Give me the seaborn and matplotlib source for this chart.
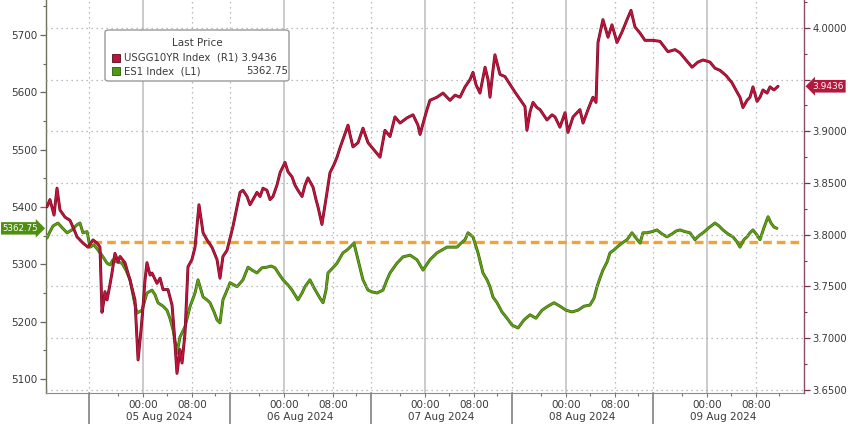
import matplotlib
matplotlib.use("Agg")
import matplotlib.pyplot as plt
import matplotlib.patheffects as pe
import matplotlib.transforms as mtransforms
from matplotlib.patches import FancyBboxPatch, Rectangle
from matplotlib.ticker import MultipleLocator, FuncFormatter, FixedLocator
import seaborn as sns

# ---------------- data (x = session position in days, 0 = start of 05 Aug session) ----------
us10_x = [-0.298, -0.277, -0.248, -0.227, -0.206, -0.170, -0.135, -0.106, -0.085, -0.043,
          -0.007, 0.028, 0.057, 0.078, 0.092, 0.106, 0.113, 0.128, 0.149, 0.163,
          0.184, 0.206, 0.220, 0.255, 0.291, 0.326, 0.348, 0.369, 0.383, 0.397,
          0.411, 0.433, 0.447, 0.482, 0.504, 0.525, 0.560, 0.589, 0.603, 0.624,
          0.645, 0.660, 0.681, 0.702, 0.730, 0.752, 0.780, 0.809, 0.837, 0.872,
          0.908, 0.929, 0.950, 0.979, 1.021, 1.071, 1.092, 1.121, 1.142, 1.163,
          1.191, 1.213, 1.234, 1.262, 1.284, 1.305, 1.333, 1.355, 1.390, 1.411,
          1.440, 1.461, 1.482, 1.511, 1.532, 1.553, 1.589, 1.610, 1.624, 1.652,
          1.674, 1.688, 1.709, 1.738, 1.759, 1.780, 1.801, 1.837, 1.851, 1.872,
          1.908, 1.943, 1.979, 2.021, 2.064, 2.099, 2.135, 2.170, 2.206, 2.255,
          2.298, 2.333, 2.348, 2.376, 2.397, 2.418, 2.468, 2.511, 2.560, 2.596,
          2.631, 2.667, 2.702, 2.723, 2.745, 2.773, 2.809, 2.830, 2.844, 2.865,
          2.879, 2.915, 2.950, 3.021, 3.092, 3.106, 3.128, 3.149, 3.177, 3.199,
          3.248, 3.284, 3.305, 3.340, 3.376, 3.397, 3.433, 3.482, 3.504, 3.539,
          3.574, 3.596, 3.610, 3.645, 3.681, 3.709, 3.745, 3.780, 3.816, 3.844,
          3.872, 3.908, 3.943, 4.000, 4.050, 4.106, 4.156, 4.191, 4.234, 4.277,
          4.319, 4.355, 4.404, 4.440, 4.475, 4.518, 4.560, 4.596, 4.617, 4.638,
          4.667, 4.688, 4.709, 4.738, 4.759, 4.780, 4.809, 4.830, 4.858, 4.887]
us10_y = [3.827, 3.834, 3.819, 3.845, 3.824, 3.817, 3.814, 3.805, 3.798, 3.792,
          3.788, 3.795, 3.792, 3.788, 3.725, 3.737, 3.745, 3.737, 3.752, 3.763,
          3.782, 3.774, 3.779, 3.773, 3.756, 3.737, 3.679, 3.708, 3.730, 3.756,
          3.773, 3.761, 3.763, 3.753, 3.758, 3.747, 3.747, 3.732, 3.708, 3.666,
          3.689, 3.676, 3.705, 3.769, 3.776, 3.788, 3.829, 3.802, 3.795, 3.788,
          3.776, 3.758, 3.779, 3.785, 3.808, 3.841, 3.843, 3.837, 3.829, 3.834,
          3.841, 3.837, 3.845, 3.843, 3.834, 3.837, 3.848, 3.860, 3.870, 3.861,
          3.856, 3.848, 3.843, 3.837, 3.848, 3.855, 3.846, 3.834, 3.827, 3.810,
          3.829, 3.841, 3.860, 3.868, 3.875, 3.884, 3.892, 3.906, 3.897, 3.885,
          3.889, 3.903, 3.889, 3.882, 3.875, 3.901, 3.895, 3.914, 3.908, 3.913,
          3.916, 3.906, 3.897, 3.911, 3.921, 3.930, 3.933, 3.937, 3.930, 3.935,
          3.933, 3.943, 3.950, 3.957, 3.945, 3.937, 3.962, 3.950, 3.933, 3.959,
          3.974, 3.955, 3.953, 3.938, 3.924, 3.901, 3.919, 3.928, 3.923, 3.921,
          3.911, 3.916, 3.914, 3.904, 3.918, 3.899, 3.914, 3.921, 3.908, 3.921,
          3.933, 3.928, 3.986, 4.008, 3.991, 4.003, 3.986, 3.996, 4.008, 4.017,
          4.001, 3.995, 3.988, 3.988, 3.987, 3.977, 3.979, 3.976, 3.969, 3.962,
          3.967, 3.969, 3.967, 3.961, 3.959, 3.954, 3.947, 3.938, 3.933, 3.923,
          3.930, 3.933, 3.943, 3.929, 3.933, 3.940, 3.937, 3.943, 3.940, 3.9436]

es1_x = [-0.298, -0.277, -0.255, -0.220, -0.191, -0.156, -0.121, -0.085, -0.064, -0.043,
         -0.014, 0.007, 0.035, 0.064, 0.099, 0.128, 0.149, 0.170, 0.199, 0.234,
         0.262, 0.291, 0.319, 0.340, 0.376, 0.411, 0.447, 0.468, 0.489, 0.525,
         0.553, 0.574, 0.596, 0.624, 0.645, 0.681, 0.716, 0.752, 0.773, 0.809,
         0.837, 0.858, 0.887, 0.908, 0.929, 0.950, 0.979, 1.000, 1.050, 1.092,
         1.128, 1.156, 1.191, 1.227, 1.262, 1.291, 1.319, 1.348, 1.376, 1.411,
         1.440, 1.482, 1.511, 1.532, 1.567, 1.596, 1.617, 1.638, 1.660, 1.681,
         1.695, 1.730, 1.759, 1.801, 1.830, 1.851, 1.879, 1.908, 1.943, 1.979,
         2.007, 2.043, 2.085, 2.113, 2.135, 2.184, 2.227, 2.277, 2.326, 2.369,
         2.418, 2.468, 2.504, 2.539, 2.574, 2.610, 2.638, 2.667, 2.688, 2.723,
         2.759, 2.794, 2.823, 2.844, 2.865, 2.894, 2.929, 2.965, 3.000, 3.043,
         3.085, 3.128, 3.170, 3.213, 3.255, 3.298, 3.340, 3.383, 3.426, 3.468,
         3.511, 3.553, 3.582, 3.603, 3.624, 3.645, 3.674, 3.695, 3.723, 3.745,
         3.780, 3.816, 3.851, 3.879, 3.908, 3.929, 3.957, 3.993, 4.028, 4.064,
         4.099, 4.135, 4.163, 4.191, 4.227, 4.262, 4.298, 4.326, 4.355, 4.397,
         4.440, 4.468, 4.496, 4.532, 4.567, 4.596, 4.617, 4.645, 4.667, 4.688,
         4.709, 4.738, 4.759, 4.787, 4.816, 4.837, 4.858, 4.879]
es1_y = [5346, 5357, 5367, 5372, 5364, 5355, 5360, 5369, 5372, 5355,
         5357, 5330, 5334, 5325, 5313, 5302, 5299, 5308, 5304, 5302,
         5290, 5273, 5238, 5215, 5220, 5250, 5255, 5247, 5233, 5227,
         5220, 5206, 5186, 5145, 5173, 5191, 5226, 5250, 5273, 5243,
         5238, 5233, 5217, 5203, 5198, 5238, 5255, 5268, 5261, 5273,
         5295, 5290, 5285, 5294, 5295, 5297, 5294, 5283, 5273, 5264,
         5255, 5238, 5250, 5261, 5273, 5259, 5250, 5241, 5233, 5255,
         5285, 5294, 5302, 5320, 5325, 5330, 5337, 5308, 5273, 5255,
         5252, 5250, 5255, 5273, 5285, 5302, 5313, 5316, 5308, 5290,
         5308, 5320, 5325, 5330, 5330, 5330, 5337, 5343, 5355, 5348,
         5320, 5285, 5273, 5261, 5243, 5233, 5217, 5206, 5194, 5189,
         5203, 5212, 5206, 5220, 5227, 5233, 5227, 5220, 5217, 5220,
         5227, 5229, 5241, 5261, 5276, 5290, 5304, 5320, 5325, 5330,
         5337, 5343, 5355, 5346, 5337, 5355, 5355, 5357, 5360, 5353,
         5348, 5353, 5358, 5360, 5357, 5355, 5343, 5350, 5355, 5364,
         5372, 5367, 5360, 5353, 5348, 5339, 5330, 5343, 5348, 5355,
         5360, 5351, 5343, 5364, 5383, 5372, 5365, 5362.75]

ref_level = 5339          # orange dashed reference level (left axis)
ref_start = 0.03

day_labels = ["05 Aug 2024", "06 Aug 2024", "07 Aug 2024", "08 Aug 2024", "09 Aug 2024"]
time_labels = ["00:00", "08:00"]
time_offsets = [0.383, 0.730]
minor_offsets = [0.206, 0.553, 0.894]

us10_last = "3.9436"
es1_last = "5362.75"

# ---------------- style ----------------
sns.set_style("white")
plt.rcParams['font.family'] = ['DejaVu Sans']

RED = "#c0143c"
RED_DK = "#6a0c22"
GREEN = "#5f9f16"
GREEN_DK = "#355f08"
ORANGE = "#f4a233"
TXT = "#3a3a3a"

W, H = 848, 424
fig = plt.figure(figsize=(W / 100, H / 100), dpi=100)
ax = fig.add_axes([46 / W, 31 / H, (804 - 46) / W, 393 / H])
ax2 = ax.twinx()

xlim = (-0.305, 5.071)
ax.set_xlim(*xlim)
ax.set_ylim(5075.6, 5761)
ax2.set_ylim(3.647, 4.027)

# grid: horizontal dotted at right-axis ticks
for v in [3.65, 3.70, 3.75, 3.80, 3.85, 3.90, 3.95, 4.00]:
    ax2.axhline(v, color="#a8a8a8", lw=0.9, ls=(0, (1, 3)), zorder=0)
# vertical grid
for d in range(5):
    ax.axvline(d, color="#a8a8a8", lw=0.9, ls=(0, (1, 3)), zorder=0)
    ax.axvline(d + time_offsets[0], color="#bdbdbd", lw=1.1, zorder=0)
    ax.axvline(d + time_offsets[1], color="#a8a8a8", lw=0.9, ls=(0, (1, 3)), zorder=0)
    # separators extending into the label area
    ax.axvline(d, ymin=-0.08, ymax=0, clip_on=False, color="#808080", lw=1.2)
    ax.text(d + 0.5, -0.062, day_labels[d], transform=mtransforms.blended_transform_factory(ax.transData, ax.transAxes),
            ha="center", va="center", fontsize=7.5, color=TXT)

# orange reference line
ax.hlines(ref_level, ref_start, xlim[1], colors=ORANGE, linestyles=(0, (2.6, 1.5)), lw=2.4, zorder=3)

# series
sns.lineplot(x=es1_x, y=es1_y, ax=ax, color=GREEN, lw=1.3, estimator=None, sort=False, legend=False, zorder=4)
ax.lines[-1].set_path_effects([pe.Stroke(linewidth=2.1, foreground=GREEN_DK), pe.Normal()])
sns.lineplot(x=us10_x, y=us10_y, ax=ax2, color=RED, lw=1.3, estimator=None, sort=False, legend=False, zorder=4)
ax2.lines[-1].set_path_effects([pe.Stroke(linewidth=2.1, foreground=RED_DK), pe.Normal()])

ax.set_xlabel("")
ax.set_ylabel("")
ax2.set_xlabel("")
ax2.set_ylabel("")

# x ticks
major_x = [d + o for d in range(5) for o in time_offsets]
ax.xaxis.set_major_locator(FixedLocator(major_x))
ax.set_xticklabels(time_labels * 5)
ax.xaxis.set_minor_locator(FixedLocator([d + o for d in range(5) for o in minor_offsets]))
ax.tick_params(axis="x", which="major", length=3, width=0.8, color="#777777", labelsize=7.5,
               labelcolor=TXT, pad=2, bottom=True)
ax.tick_params(axis="x", which="minor", length=2, width=0.8, color="#777777", bottom=True)

# left y ticks
ax.yaxis.set_major_locator(MultipleLocator(100))
ax.yaxis.set_minor_locator(MultipleLocator(50))
ax.yaxis.set_major_formatter(FuncFormatter(lambda v, p: f"{v:.0f}"))
ax.tick_params(axis="y", which="major", length=4, width=0.9, color="#666666", labelsize=7.5,
               labelcolor=TXT, pad=2, left=True)
ax.tick_params(axis="y", which="minor", length=2, width=0.8, color="#666666", left=True)

# right y ticks (the 3.9500 label sits under the last-value tag, as in Bloomberg)
ax2.yaxis.set_major_locator(MultipleLocator(0.05))
ax2.yaxis.set_minor_locator(MultipleLocator(0.025))
ax2.yaxis.set_major_formatter(FuncFormatter(lambda v, p: "" if abs(v - 3.95) < 1e-6 else f"{v:.4f}"))
ax2.tick_params(axis="y", which="major", length=4, width=0.9, color="#7a3050", labelsize=7.2,
                labelcolor=TXT, pad=2, right=True)
ax2.tick_params(axis="y", which="minor", length=2, width=0.8, color="#7a3050", right=True)

for a in (ax, ax2):
    a.grid(False)
    a.spines["top"].set_visible(False)
ax.spines["left"].set_color("#707060")
ax.spines["left"].set_linewidth(1.0)
ax.spines["bottom"].set_color("#8a8a8a")
ax.spines["right"].set_visible(False)
ax2.spines["left"].set_visible(False)
ax2.spines["bottom"].set_visible(False)
ax2.spines["right"].set_color("#8a4a66")
ax2.spines["right"].set_linewidth(1.0)

# last-value tags
ax.annotate(es1_last, xy=(0, es1_y[-1]),
            xycoords=mtransforms.blended_transform_factory(ax.transAxes, ax.transData),
            xytext=(-5.5, 0), textcoords="offset points", ha="right", va="center",
            fontsize=6.2, color="white", annotation_clip=False,
            bbox=dict(boxstyle="rarrow,pad=0.2", fc="#4e8f12", ec="none"))
ax2.annotate(us10_last, xy=(1, us10_y[-1]),
             xycoords=mtransforms.blended_transform_factory(ax2.transAxes, ax2.transData),
             xytext=(6, 0), textcoords="offset points", ha="left", va="center",
             fontsize=6.5, color="white", annotation_clip=False,
             bbox=dict(boxstyle="larrow,pad=0.2", fc="#b5173d", ec="none"))

# legend box
lg = FancyBboxPatch((105 / W, 1 - 81 / H), 184 / W, 51 / H,
                    boxstyle="round,pad=0,rounding_size=0.005", transform=fig.transFigure,
                    fc="white", ec="#9a9a9a", lw=1.0, zorder=20)
fig.add_artist(lg)
fig.text(197 / W, 1 - 43 / H, "Last Price", ha="center", va="center", fontsize=7.5, color=TXT, zorder=21)
fig.add_artist(Rectangle((112 / W, 1 - 62 / H), 8 / W, 8 / H, transform=fig.transFigure,
                         fc="#b5173d", ec="#5a0a1e", lw=0.6, zorder=21))
fig.add_artist(Rectangle((112 / W, 1 - 75 / H), 8 / W, 8 / H, transform=fig.transFigure,
                         fc="#4e9a14", ec="#2c5a06", lw=0.6, zorder=21))
fig.text(124 / W, 1 - 58 / H, "USGG10YR Index  (R1) " + us10_last, ha="left", va="center",
         fontsize=7.3, color=TXT, zorder=21)
fig.text(124 / W, 1 - 71 / H, "ES1 Index  (L1)", ha="left", va="center",
         fontsize=7.3, color=TXT, zorder=21)
fig.text(288 / W, 1 - 71 / H, es1_last, ha="right", va="center",
         fontsize=7.3, color=TXT, zorder=21)

fig.savefig("out.png", dpi=100, facecolor="white")
